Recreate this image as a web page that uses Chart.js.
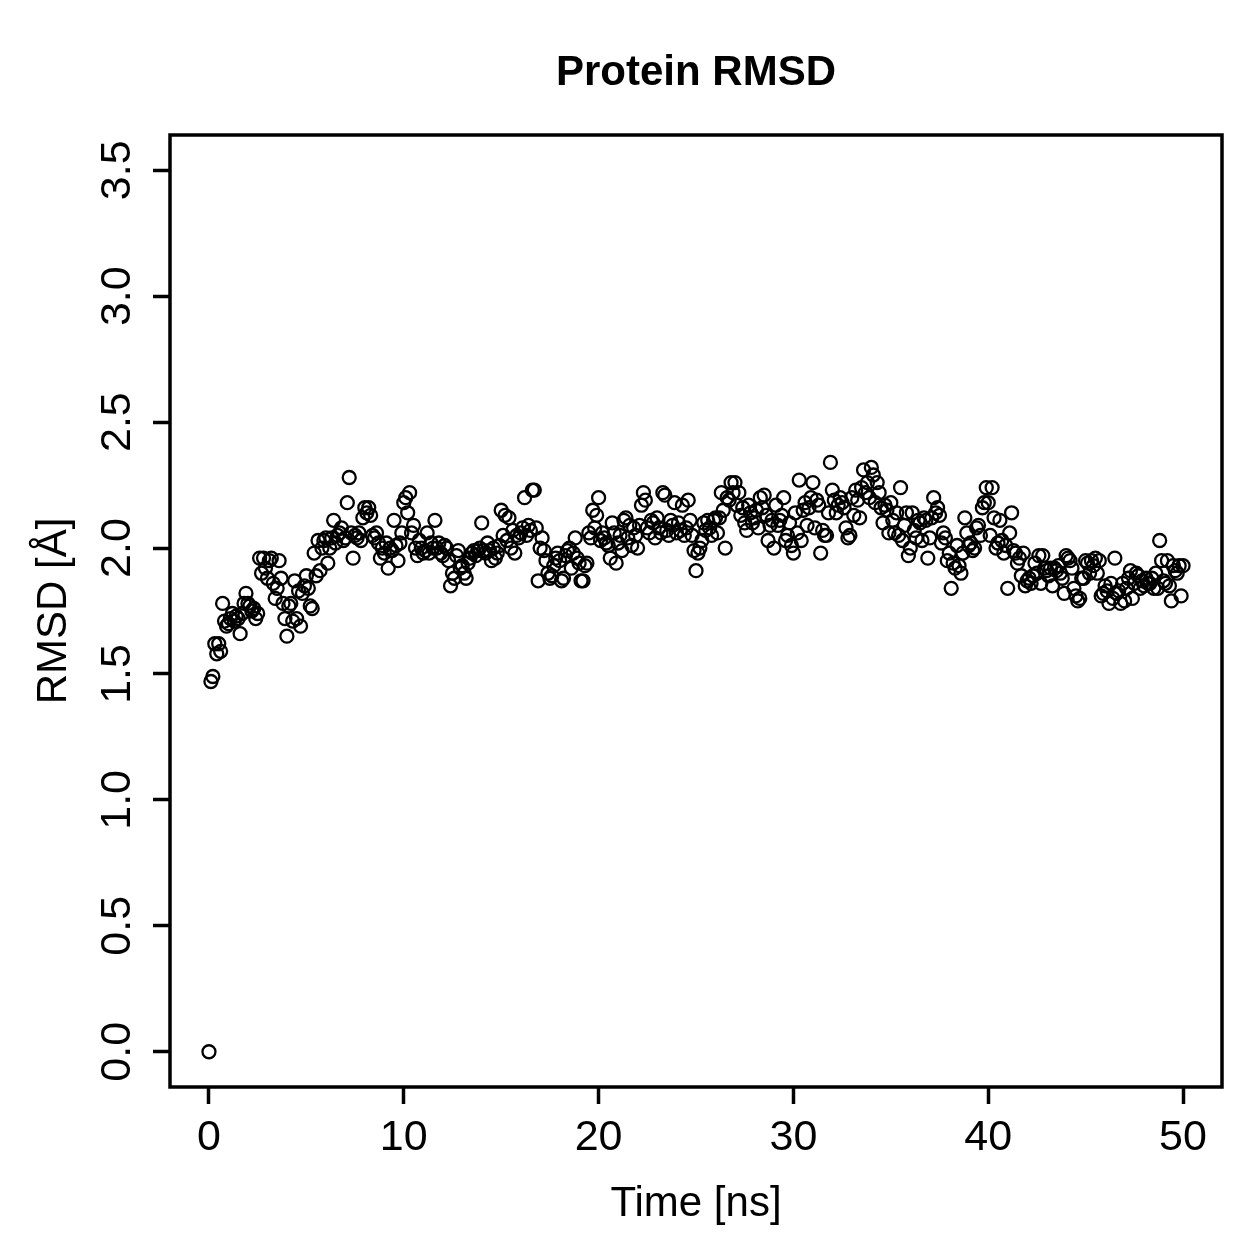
<!DOCTYPE html>
<html>
<head>
<meta charset="utf-8">
<title>Protein RMSD</title>
<script src="https://cdn.jsdelivr.net/npm/chart.js@4.4.1/dist/chart.umd.min.js"></script>
<style>
  html, body { margin: 0; padding: 0; background: #ffffff; }
  canvas { display: block; }
</style>
</head>
<body>
<canvas id="myChart" width="1259" height="1259"></canvas>
<script>
const chartTitle = 'Protein RMSD';
const xTitle = 'Time [ns]';
const yTitle = 'RMSD [\u00C5]';
const xTicks = [0, 10, 20, 30, 40, 50];
const yTicks = [0.0, 0.5, 1.0, 1.5, 2.0, 2.5, 3.0, 3.5];
const startTime = 0;
const timeStep = 0.1;

// one row per ns, 0.1 ns apart
const rmsd = [
  0.00, 1.47, 1.49, 1.62, 1.58, 1.62, 1.59, 1.78, 1.71, 1.69,
  1.70, 1.72, 1.74, 1.71, 1.73, 1.72, 1.66, 1.74, 1.78, 1.82,
  1.78, 1.77, 1.75, 1.76, 1.72, 1.74, 1.96, 1.90, 1.96, 1.92,
  1.88, 1.95, 1.96, 1.86, 1.80, 1.84, 1.95, 1.88, 1.78, 1.72,
  1.65, 1.77, 1.78, 1.71, 1.87, 1.72, 1.83, 1.69, 1.82, 1.85,
  1.89, 1.84, 1.77, 1.76, 1.98, 1.89, 2.03, 1.91, 2.00, 2.03,
  2.04, 1.94, 2.00, 2.04, 2.11, 2.02, 2.05, 2.06, 2.08, 2.03,
  2.04, 2.18, 2.28, 2.06, 1.96, 2.05, 2.04, 2.06, 2.03, 2.12,
  2.16, 2.14, 2.16, 2.13, 2.05, 2.04, 2.06, 2.02, 1.96, 2.00,
  1.98, 2.02, 1.92, 2.00, 1.99, 2.11, 2.01, 1.95, 2.02, 2.06,
  2.18, 2.20, 2.14, 2.22, 2.06, 2.09, 2.00, 1.97, 2.03, 2.00,
  1.98, 1.99, 2.06, 1.98, 2.02, 2.00, 2.11, 2.00, 2.02, 1.98,
  1.97, 2.01, 2.00, 1.95, 1.85, 1.90, 1.88, 1.97, 1.99, 1.92,
  1.93, 1.90, 1.88, 1.94, 1.96, 1.98, 1.99, 1.97, 1.99, 2.00,
  2.10, 1.99, 1.98, 2.02, 1.99, 1.95, 2.00, 1.96, 1.98, 2.01,
  2.15, 2.05, 2.13, 2.03, 2.12, 2.00, 2.07, 1.98, 2.05, 2.04,
  2.06, 2.08, 2.20, 2.05, 2.09, 2.07, 2.23, 2.23, 2.08, 1.87,
  2.00, 2.04, 1.99, 1.95, 1.90, 1.88, 1.89, 1.93, 1.96, 1.98,
  1.95, 1.87, 1.88, 1.97, 1.99, 2.00, 1.92, 1.98, 2.04, 1.96,
  1.94, 1.87, 1.87, 1.93, 1.94, 2.06, 2.04, 2.15, 2.08, 2.13,
  2.20, 2.03, 2.06, 2.04, 2.02, 2.01, 1.96, 2.10, 2.06, 1.94,
  2.02, 2.05, 1.99, 2.11, 2.12, 2.04, 2.09, 2.01, 2.08, 2.05,
  2.00, 2.09, 2.17, 2.22, 2.19, 2.08, 2.06, 2.11, 2.10, 2.04,
  2.12, 2.08, 2.06, 2.22, 2.21, 2.07, 2.05, 2.11, 2.09, 2.18,
  2.06, 2.10, 2.07, 2.17, 2.05, 2.08, 2.19, 2.11, 2.05, 1.99,
  1.91, 1.98, 2.00, 2.03, 2.10, 2.07, 2.11, 2.08, 2.05, 2.11,
  2.12, 2.06, 2.12, 2.22, 2.15, 2.00, 2.20, 2.19, 2.26, 2.22,
  2.26, 2.17, 2.22, 2.13, 2.16, 2.10, 2.07, 2.17, 2.14, 2.10,
  2.12, 2.15, 2.08, 2.20, 2.16, 2.21, 2.13, 2.03, 2.09, 2.11,
  2.00, 2.17, 2.09, 2.11, 2.13, 2.20, 2.03, 2.05, 2.10, 2.01,
  1.98, 2.14, 2.06, 2.27, 2.03, 2.15, 2.18, 2.09, 2.16, 2.20,
  2.26, 2.08, 2.19, 2.17, 1.98, 2.07, 2.05, 2.05, 2.14, 2.34,
  2.23, 2.19, 2.14, 2.17, 2.20, 2.18, 2.16, 2.08, 2.04, 2.05,
  2.20, 2.13, 2.23, 2.19, 2.12, 2.24, 2.31, 2.22, 2.26, 2.20,
  2.32, 2.29, 2.18, 2.26, 2.22, 2.16, 2.10, 2.17, 2.15, 2.06,
  2.18, 2.11, 2.06, 2.14, 2.05, 2.24, 2.03, 2.09, 2.14, 1.97,
  2.00, 2.14, 2.07, 2.04, 2.11, 2.10, 2.03, 2.12, 2.11, 1.96,
  2.04, 2.12, 2.20, 2.14, 2.16, 2.13, 2.02, 2.06, 2.04, 1.95,
  1.98, 1.84, 1.94, 1.92, 2.01, 1.93, 1.90, 1.98, 2.12, 2.06,
  2.01, 2.02, 1.99, 2.00, 2.08, 2.09, 2.05, 2.16, 2.18, 2.24,
  2.18, 2.05, 2.24, 2.12, 2.00, 2.02, 2.11, 2.03, 1.98, 2.01,
  1.84, 2.06, 2.14, 1.99, 1.98, 1.94, 1.96, 1.89, 1.98, 1.85,
  1.87, 1.88, 1.86, 1.89, 1.94, 1.90, 1.97, 1.86, 1.97, 1.92,
  1.91, 1.89, 1.92, 1.85, 1.92, 1.91, 1.93, 1.90, 1.88, 1.82,
  1.97, 1.96, 1.95, 1.92, 1.84, 1.81, 1.79, 1.80, 1.88, 1.88,
  1.95, 1.94, 1.90, 1.95, 1.93, 1.96, 1.90, 1.95, 1.81, 1.82,
  1.85, 1.83, 1.78, 1.86, 1.80, 1.96, 1.82, 1.83, 1.78, 1.86,
  1.79, 1.84, 1.88, 1.91, 1.80, 1.86, 1.90, 1.89, 1.84, 1.87,
  1.85, 1.88, 1.86, 1.86, 1.88, 1.84, 1.90, 1.84, 2.03, 1.95,
  1.87, 1.86, 1.95, 1.85, 1.79, 1.93, 1.91, 1.90, 1.93, 1.81,
  1.93
];

const points = rmsd.map((v, i) => ({ x: startTime + i * timeStep, y: v }));

const fontFamily = '"Liberation Sans", Arial, Helvetica, sans-serif';

// R style: box round the plot, rotated y labels, titles
const rStylePlugin = {
  id: 'rStyle',
  afterDraw(chart) {
    const ctx = chart.ctx;
    const area = chart.chartArea;
    const xs = chart.scales.x;
    const ys = chart.scales.y;
    ctx.save();
    ctx.strokeStyle = '#000000';
    ctx.lineWidth = 3.5;
    ctx.strokeRect(area.left, area.top, area.right - area.left, area.bottom - area.top);

    ctx.fillStyle = '#000000';
    ctx.font = '43px ' + fontFamily;
    ctx.textAlign = 'center';
    ctx.textBaseline = 'alphabetic';
    xs.ticks.forEach(t => {
      ctx.fillText(String(t.value), xs.getPixelForValue(t.value), 1150);
    });
    ys.ticks.forEach(t => {
      ctx.save();
      ctx.translate(130, ys.getPixelForValue(t.value));
      ctx.rotate(-Math.PI / 2);
      ctx.fillText(t.value.toFixed(1), 0, 0);
      ctx.restore();
    });

    ctx.font = '42px ' + fontFamily;
    ctx.fillText(xTitle, (area.left + area.right) / 2, 1216);
    ctx.save();
    ctx.translate(66, (area.top + area.bottom) / 2);
    ctx.rotate(-Math.PI / 2);
    ctx.fillText(yTitle, 0, 0);
    ctx.restore();

    ctx.font = 'bold 42px ' + fontFamily;
    ctx.fillText(chartTitle, (area.left + area.right) / 2, 85);
    ctx.restore();
  }
};

const myChart = new Chart(document.getElementById('myChart'), {
  type: 'scatter',
  data: {
    datasets: [{
      data: points,
      pointStyle: 'circle',
      pointRadius: 6.5,
      pointBorderWidth: 2.3,
      pointBorderColor: '#000000',
      pointBackgroundColor: 'rgba(0,0,0,0)',
      borderColor: '#000000',
      backgroundColor: 'rgba(0,0,0,0)',
      pointHoverRadius: 6.5
    }]
  },
  options: {
    responsive: false,
    animation: false,
    layout: {
      padding: { left: 0, right: 37, top: 135, bottom: 0 }
    },
    plugins: {
      legend: { display: false },
      tooltip: { enabled: false }
    },
    scales: {
      x: {
        type: 'linear',
        min: -2,
        max: 52,
        afterBuildTicks: scale => {
          scale.ticks = xTicks.map(v => ({ value: v }));
        },
        afterFit: scale => {
          scale.height = 172;
        },
        ticks: { display: false },
        border: { display: false },
        grid: {
          drawOnChartArea: false,
          drawTicks: true,
          tickLength: 17,
          tickColor: '#000000',
          tickWidth: 3.5
        }
      },
      y: {
        type: 'linear',
        min: -0.14,
        max: 3.64,
        afterBuildTicks: scale => {
          scale.ticks = yTicks.map(v => ({ value: v }));
        },
        afterFit: scale => {
          scale.width = 170;
        },
        ticks: { display: false },
        border: { display: false },
        grid: {
          drawOnChartArea: false,
          drawTicks: true,
          tickLength: 17,
          tickColor: '#000000',
          tickWidth: 3.5
        }
      }
    }
  },
  plugins: [rStylePlugin]
});
</script>
</body>
</html>
